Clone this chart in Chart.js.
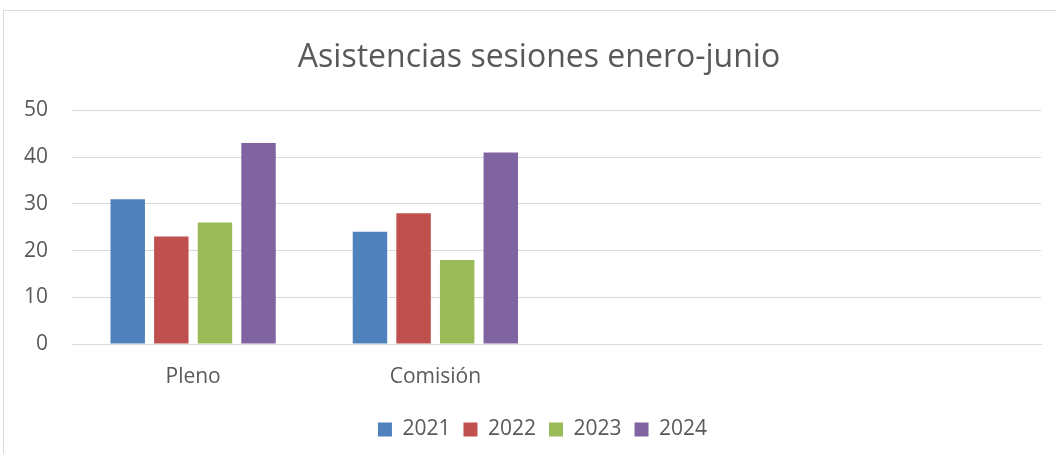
<!DOCTYPE html>
<html>
<head>
<meta charset="utf-8">
<script src="https://cdn.jsdelivr.net/npm/chart.js@4"></script>
<style>
  html, body { margin: 0; padding: 0; background: #fff; overflow: hidden; }
  body { width: 1056px; height: 454px; position: relative; }
  #cadre {
    position: absolute; left: 3px; top: 10px;
    width: 1070px; height: 460px;
    border: 1px solid #d9d9d9;
  }
</style>
</head>
<body>
<div id="cadre">
  <canvas id="myChart" width="1070" height="439"></canvas>
</div>
<script>
// données du graphique
const categories = ['Pleno', 'Comisión', '', ''];
const annees = ['2021', '2022', '2023', '2024'];
const serie2021 = [31, 24];
const serie2022 = [23, 28];
const serie2023 = [26, 18];
const serie2024 = [43, 41];
const graduations = [0, 10, 20, 30, 40, 50];

const couleurs = ['#4f81bd', '#c0504d', '#9bbb59', '#8064a2'];
const police = '"Open Sans", "Noto Sans", sans-serif';
const gris = '#595959';

const series = [serie2021, serie2022, serie2023, serie2024];

// décaler titre et légende pour les centrer sur tout le cadre (comme Excel)
const centrage = {
    id: 'centrage',
    afterLayout(chart) {
        if (chart.titleBlock) { chart.titleBlock.left += 16.5; chart.titleBlock.right += 16.5; }
        if (chart.legend) { chart.legend.left += 20; chart.legend.right += 20; }
    }
};

const ctx = document.getElementById('myChart').getContext('2d');
const myChart = new Chart(ctx, {
    type: 'bar',
    data: {
        labels: categories,
        datasets: annees.map((a, i) => ({
            label: a,
            data: series[i],
            backgroundColor: couleurs[i],
            borderWidth: 0,
            categoryPercentage: 0.72,
            barPercentage: 0.79
        }))
    },
    options: {
        responsive: false,
        animation: false,
        layout: { padding: { left: 0, right: 33, top: 0, bottom: 0 } },
        plugins: {
            title: {
                display: true,
                text: 'Asistencias sesiones enero-junio',
                color: gris,
                font: { family: police, size: 32, weight: 'normal' },
                padding: { top: 28, bottom: 33 }
            },
            legend: {
                position: 'bottom',
                labels: {
                    color: gris,
                    font: { family: police, size: 21 },
                    boxWidth: 14,
                    boxHeight: 14,
                    padding: 13
                }
            },
            tooltip: { enabled: false }
        },
        scales: {
            x: {
                grid: { display: false, drawTicks: false },
                border: { display: true, color: '#d9d9d9' },
                ticks: { color: gris, font: { family: police, size: 21 }, padding: 20 },
                afterFit: (s) => { s.height = 62; }
            },
            y: {
                min: 0,
                max: 50,
                afterBuildTicks: (s) => { s.ticks = graduations.map(v => ({ value: v })); },
                grid: { color: '#d9d9d9', drawTicks: false },
                border: { display: false },
                ticks: { color: gris, font: { family: police, size: 21 }, padding: 24 },
                afterFit: (s) => { s.width = 68; }
            }
        }
    },
    plugins: [centrage]
});
</script>
</body>
</html>
